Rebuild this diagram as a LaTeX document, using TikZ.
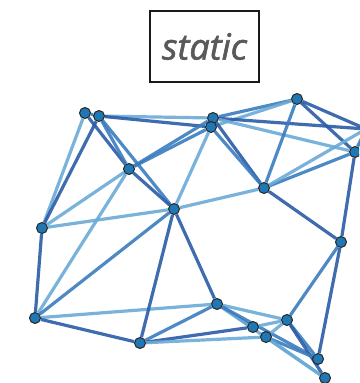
\documentclass[tikz,border=0pt]{standalone}
\usepackage{fontspec}
\setmainfont{Open Sans}
\newfontfamily\titlefont[FakeBold=1.6]{Open Sans}
\usetikzlibrary{backgrounds}
\definecolor{edark}{HTML}{2A5CA5}
\definecolor{emid}{HTML}{3A7DBF}
\definecolor{elight}{HTML}{6AAAD6}
\definecolor{nodefill}{HTML}{1F77B4}
\definecolor{txtgray}{HTML}{595959}
\tikzset{
  vtx/.style={circle,fill=nodefill,draw=black!85,line width=1pt,minimum size=11pt,inner sep=0pt},
  edge/.style={line width=3.2pt,opacity=0.9},
  titlebox/.style={draw=black!90,line width=2pt,minimum width=109pt,minimum height=71pt,inner sep=0pt,
    font=\titlefont\fontsize{36}{40}\selectfont\itshape,text=txtgray}
}
\begin{document}
\begin{tikzpicture}[x=1pt,y=-1pt]
\useasboundingbox (0,0) rectangle (359,383);
\clip (0,0) rectangle (359,383);
\node[titlebox] (title) at (204.5,46.5) {static};
\node[vtx] (A) at (85,113) {};
\node[vtx] (B) at (99,116) {};
\node[vtx] (C) at (213,118) {};
\node[vtx] (D) at (211,127) {};
\node[vtx] (E) at (297,99) {};
\node[vtx] (F) at (355,152) {};
\node[vtx] (G) at (129,169) {};
\node[vtx] (H) at (174,209) {};
\node[vtx] (I) at (264,188) {};
\node[vtx] (J) at (42,228) {};
\node[vtx] (K) at (341,242) {};
\node[vtx] (L) at (35,318) {};
\node[vtx] (M) at (140,343) {};
\node[vtx] (N) at (217,304) {};
\node[vtx] (O) at (287,320) {};
\node[vtx] (P) at (253,327) {};
\node[vtx] (Q) at (266,337) {};
\node[vtx] (R) at (318,359) {};
\node[vtx] (S) at (325,378) {};
\coordinate (X) at (366,129);
\begin{scope}[on background layer]
\foreach \a/\b/\c in {A/B/emid, A/J/elight, B/J/edark, A/G/edark, B/G/emid, B/H/emid,
  B/C/elight, B/D/edark, C/E/emid, D/E/elight, C/X/edark, C/F/elight, C/I/edark, D/I/emid,
  D/H/elight, G/C/emid, G/D/emid, G/H/edark, G/J/elight, G/L/elight, J/H/elight, J/L/edark,
  L/H/emid, L/N/elight, L/M/edark, M/H/edark, M/N/emid, M/P/edark, M/Q/elight, H/I/elight,
  H/N/edark, E/F/edark, E/I/emid, E/X/edark, I/F/emid, I/X/elight, I/K/edark, F/K/edark,
  F/X/emid, K/O/emid, K/R/edark, N/O/elight, N/P/edark, N/S/elight, N/R/emid, P/O/elight,
  Q/O/elight, O/R/emid, O/S/edark, Q/R/emid, Q/S/elight}
  \draw[edge,draw=\c] (\a) -- (\b);
\end{scope}
\end{tikzpicture}
\end{document}
